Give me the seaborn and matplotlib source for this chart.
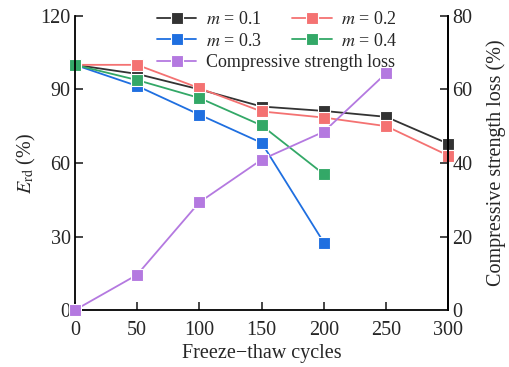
import matplotlib
matplotlib.use("Agg")
import matplotlib.pyplot as plt
import seaborn as sns
import pandas as pd
from matplotlib.lines import Line2D

sns.set_theme(style="ticks")
plt.rcParams["font.family"] = ["Liberation Serif", "DejaVu Serif"]
plt.rcParams["mathtext.fontset"] = "stix"

cycles = [0, 50, 100, 150, 200, 250, 300]
erd_m01 = [100, 96.3, 90.0, 83.0, 81.2, 78.8, 67.8]
erd_m02 = [100, 100, 90.5, 81.0, 78.5, 75.0, 63.0]
erd_m03 = [100, 91.4, 79.7, 68.2, 27.5]
erd_m04 = [100, 93.8, 86.5, 75.3, 55.4]
strength_loss = [0, 9.6, 29.3, 40.9, 48.5, 64.4]

series_labels = ["$m$ = 0.1", "$m$ = 0.2", "$m$ = 0.3", "$m$ = 0.4"]
series_values = [erd_m01, erd_m02, erd_m03, erd_m04]
colors = ["#333333", "#f47272", "#1f6fe0", "#33a867"]
loss_color = "#b479e0"

rows = []
for lab, vals in zip(series_labels, series_values):
    for c, v in zip(cycles, vals):
        rows.append({"cycles": c, "erd": v, "mix": lab})
df = pd.DataFrame(rows)
loss_df = pd.DataFrame({"cycles": cycles[:len(strength_loss)], "loss": strength_loss})

fig, ax = plt.subplots(figsize=(5.09, 3.67), dpi=100)
fig.subplots_adjust(left=0.147, right=0.881, top=0.957, bottom=0.155)

mk = dict(marker="s", markersize=8.5, markeredgecolor="white", markeredgewidth=0.8,
          linewidth=1.3)
sns.lineplot(data=df, x="cycles", y="erd", hue="mix", hue_order=series_labels,
             palette=colors, ax=ax, legend=False, **mk)

ax2 = ax.twinx()
sns.lineplot(data=loss_df, x="cycles", y="loss", color=loss_color, ax=ax2,
             legend=False, **mk)

for a in (ax, ax2):
    for l in a.get_lines():
        l.set_clip_on(False)

ax.set_xlim(0, 300)
ax.set_ylim(0, 120)
ax.set_xticks(cycles)
ax.set_yticks([0, 30, 60, 90, 120])
ax2.set_ylim(0, 80)
ax2.set_yticks([0, 20, 40, 60, 80])

ax.set_xlabel("Freeze\u2212thaw cycles", fontsize=14.5, labelpad=3)
ax.set_ylabel(r"$E_{\rm rd}$ (%)", fontsize=14.5, labelpad=2)
ax2.set_ylabel("Compressive strength loss (%)", fontsize=14.5, labelpad=10)

for a in (ax, ax2):
    a.tick_params(direction="in", length=6, width=1.2, labelsize=14.5, pad=3)
    a.spines["top"].set_visible(False)
    for s in ("left", "right", "bottom"):
        a.spines[s].set_linewidth(1.3)
        a.spines[s].set_color("black")
ax.tick_params(axis="x", pad=8)
ax2.spines["left"].set_visible(False)
ax2.spines["bottom"].set_visible(False)

def handle(color):
    return Line2D([], [], color=color, **mk)

leg1 = ax2.legend([handle(c) for c in [colors[0], colors[2], colors[1], colors[3]]],
                  [series_labels[0], series_labels[2], series_labels[1], series_labels[3]],
                  ncol=2, frameon=False, fontsize=13, loc="upper left",
                  bbox_to_anchor=(0.2, 1.04), handlelength=2.2, columnspacing=1.7,
                  labelspacing=0.25, handletextpad=0.5, borderaxespad=0)
ax2.add_artist(leg1)
ax2.legend([handle(loss_color)], ["Compressive strength loss"], frameon=False,
           fontsize=13, loc="upper left", bbox_to_anchor=(0.2, 0.895),
           handlelength=2.2, handletextpad=0.5, borderaxespad=0)

fig.savefig("out.png", dpi=100)
